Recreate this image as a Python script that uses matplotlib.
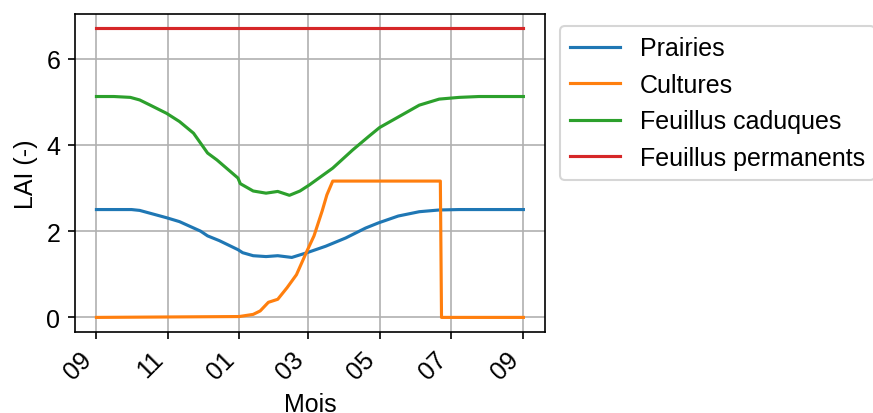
import pandas as pd
import matplotlib
matplotlib.use('Agg')
import matplotlib.pyplot as plt
import matplotlib.dates as mdates

plt.rcParams['font.family'] = ['Liberation Sans', 'DejaVu Sans']
plt.rcParams['font.size'] = 12

start = pd.Timestamp('2021-09-01')

# days since 1 Sept, LAI values
prairies_days = [0, 30, 37, 60, 71, 89, 95, 105, 121, 125, 134, 145, 155, 167, 180, 196, 213, 230, 241, 258, 276, 293, 310, 365]
prairies_lai = [2.50, 2.50, 2.48, 2.31, 2.22, 2.00, 1.89, 1.78, 1.57, 1.50, 1.43, 1.41, 1.43, 1.39, 1.50, 1.65, 1.84, 2.07, 2.19, 2.35, 2.45, 2.49, 2.50, 2.50]

cultures_days = [0, 122, 134, 140, 147, 155, 163, 171, 180, 186, 193, 197, 202, 294, 295, 365]
cultures_lai = [0.0, 0.02, 0.07, 0.15, 0.35, 0.42, 0.69, 0.99, 1.54, 1.89, 2.47, 2.84, 3.16, 3.16, 0.0, 0.0]

caduques_days = [0, 15, 29, 37, 46, 60, 71, 83, 95, 103, 121, 123, 134, 145, 155, 165, 174, 182, 202, 219, 233, 242, 259, 276, 293, 310, 327, 365]
caduques_lai = [5.12, 5.12, 5.10, 5.04, 4.92, 4.73, 4.54, 4.27, 3.81, 3.65, 3.23, 3.10, 2.93, 2.88, 2.92, 2.83, 2.93, 3.07, 3.46, 3.88, 4.20, 4.40, 4.66, 4.92, 5.06, 5.10, 5.12, 5.12]

permanents_days = [0, 365]
permanents_lai = [6.7, 6.7]

series = [
    ('Prairies', prairies_days, prairies_lai),
    ('Cultures', cultures_days, cultures_lai),
    ('Feuillus caduques', caduques_days, caduques_lai),
    ('Feuillus permanents', permanents_days, permanents_lai),
]

fig = plt.figure(figsize=(5.82, 2.76), dpi=150)
ax = fig.add_axes([0.086, 0.196, 0.538, 0.768])

for name, days, lai in series:
    dates = start + pd.to_timedelta(days, unit='D')
    ax.plot(dates, lai, label=name)

ax.xaxis.set_major_locator(mdates.MonthLocator(bymonth=[1, 3, 5, 7, 9, 11]))
ax.xaxis.set_major_formatter(mdates.DateFormatter('%m'))
plt.setp(ax.get_xticklabels(), rotation=45, ha='right')
ax.set_xlabel('Mois')
ax.set_ylabel('LAI (-)')
ax.grid(True)
ax.legend(loc='upper left', bbox_to_anchor=(1.005, 1))

fig.savefig('out.png', dpi=150)
